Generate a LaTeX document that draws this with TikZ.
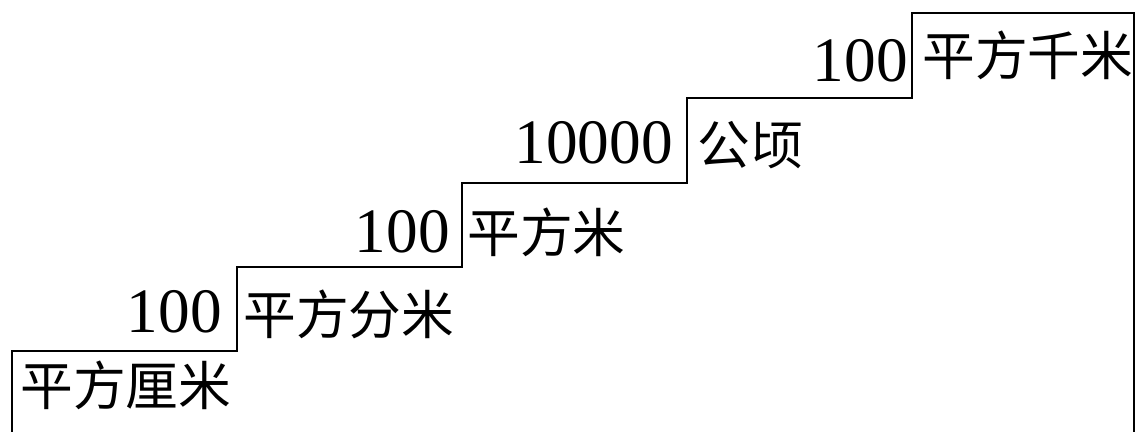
\documentclass[tikz,border=0pt]{standalone}
\usepackage{fontspec}
\setmainfont{Liberation Serif}
\newfontfamily\cjk{Noto Sans CJK SC}
\tikzset{
    unitlabel/.style={anchor=west, inner sep=0pt, font=\cjk\fontsize{30pt}{30pt}\selectfont},
    ratiolabel/.style={anchor=east, inner sep=0pt, font=\fontsize{36pt}{36pt}\selectfont}
}
\begin{document}
\begin{tikzpicture}
    \useasboundingbox (0, 0) rectangle (22.72, 8.64);

    % Stair points
    \coordinate (P0) at (0.24, 0);
    \coordinate (P1) at (0.24, 1.62);
    \coordinate (P2) at (4.74, 1.62);
    \coordinate (P3) at (4.74, 3.30);
    \coordinate (P4) at (9.24, 3.30);
    \coordinate (P5) at (9.24, 4.98);
    \coordinate (P6) at (13.74, 4.98);
    \coordinate (P7) at (13.74, 6.68);
    \coordinate (P8) at (18.24, 6.68);
    \coordinate (P9) at (18.24, 8.38);
    \coordinate (P10) at (22.68, 8.38);
    \coordinate (P11) at (22.68, 0);

    % Draw stairs
    \draw[line width=1.1pt] (P0) -- (P1) -- (P2) -- (P3) -- (P4) -- (P5) -- (P6)
        -- (P7) -- (P8) -- (P9) -- (P10) -- (P11);

    % Units
    \node[unitlabel] (cm2) at (0.40, 0.94) {平方厘米};
    \node[unitlabel] (dm2) at (4.86, 2.36) {平方分米};
    \node[unitlabel] (m2) at (9.34, 4.00) {平方米};
    \node[unitlabel] (ha) at (13.94, 5.74) {公顷};
    \node[unitlabel] (km2) at (18.44, 7.54) {平方千米};

    % Ratios
    \node[ratiolabel] (r1) at (4.44, 2.40) {100};
    \node[ratiolabel] (r2) at (9.00, 4.00) {100};
    \node[ratiolabel] (r3) at (13.46, 5.78) {10000};
    \node[ratiolabel] (r4) at (18.16, 7.42) {100};
\end{tikzpicture}
\end{document}
